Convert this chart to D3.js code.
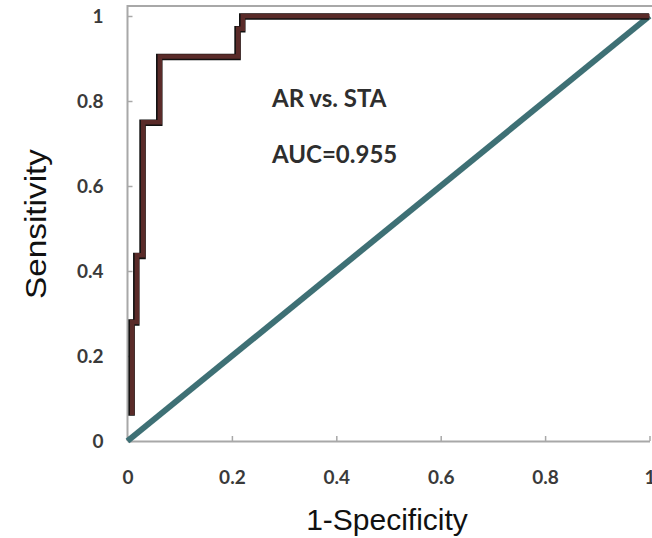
<!DOCTYPE html>
<html>
<head>
<meta charset="utf-8">
<script src="https://cdn.jsdelivr.net/npm/d3@7"></script>
<style>
  body { margin: 0; background: #fff; }
  svg { display: block; }
  .tick text { font-family: Lato, "Open Sans", sans-serif; font-weight: bold; font-size: 19px; fill: #3a3a3a; }
</style>
</head>
<body>
<svg id="chart"></svg>
<script>
var width = 652;
var height = 538;

// ROC curve (1-specificity, sensitivity)
var fpr = [0.009, 0.009, 0.018, 0.018, 0.030, 0.030, 0.062, 0.062, 0.212, 0.212, 0.221, 0.221, 1.0];
var tpr = [0.061, 0.280, 0.280, 0.437, 0.437, 0.750, 0.750, 0.905, 0.905, 0.970, 0.970, 1.0, 1.0];
var refLine = [[0, 0], [1, 1]];
var tickValues = [0, 0.2, 0.4, 0.6, 0.8, 1];
var labelText = ["AR vs. STA", "AUC=0.955"];

var svg = d3.select("#chart")
    .attr("width", width)
    .attr("height", height);

var x = d3.scaleLinear().domain([0, 1]).range([127.5, 649.5]);
var y = d3.scaleLinear().domain([0, 1]).range([441, 16]);

var fmt = d => String(+d.toFixed(1));

// frame: top line and extended left axis
svg.append("path")
    .attr("d", `M${x(0)},${y(0)}V6H${width}`)
    .attr("fill", "none")
    .attr("stroke", "#a8a8a8")
    .attr("stroke-width", 2);

var xAxis = svg.append("g")
    .attr("transform", `translate(0,${y(0)})`)
    .call(d3.axisBottom(x).tickValues(tickValues).tickFormat(fmt).tickSizeInner(-5).tickSizeOuter(0).tickPadding(30));
xAxis.select(".domain").attr("stroke", "#a8a8a8").attr("stroke-width", 2);
xAxis.selectAll(".tick line").attr("stroke", "#a8a8a8").attr("stroke-width", 1.5);

var yAxis = svg.append("g")
    .attr("transform", `translate(${x(0)},0)`)
    .call(d3.axisLeft(y).tickValues(tickValues).tickFormat(fmt).tickSizeInner(-5).tickSizeOuter(0).tickPadding(24));
yAxis.select(".domain").remove();
yAxis.selectAll(".tick line").attr("stroke", "#a8a8a8").attr("stroke-width", 1.5);

// diagonal reference
var line = d3.line().x(d => x(d[0])).y(d => y(d[1]));
svg.append("path")
    .datum(refLine)
    .attr("d", line)
    .attr("fill", "none")
    .attr("stroke", "#3e7075")
    .attr("stroke-width", 6);

// ROC curve: black edge under a brown stroke
var pts = fpr.map((f, i) => [f, tpr[i]]);
svg.append("path")
    .datum(pts)
    .attr("d", line)
    .attr("fill", "none")
    .attr("stroke", "#111")
    .attr("stroke-width", 6.5)
    .attr("transform", "translate(-0.6,0.6)");
svg.append("path")
    .datum(pts)
    .attr("d", line)
    .attr("fill", "none")
    .attr("stroke", "#5a2b29")
    .attr("stroke-width", 4.5);

// annotation
svg.selectAll(".note")
    .data(labelText)
    .join("text")
    .attr("class", "note")
    .attr("x", 272)
    .attr("y", (d, i) => 107 + i * 56)
    .attr("font-family", "Lato, 'Open Sans', sans-serif")
    .attr("font-weight", "bold")
    .attr("font-size", 24)
    .attr("fill", "#2e2e2e")
    .text(d => d);

// axis titles
svg.append("text")
    .attr("x", 387)
    .attr("y", 530)
    .attr("text-anchor", "middle")
    .attr("font-family", "'Liberation Sans', Arial, sans-serif")
    .attr("font-size", 30)
    .attr("fill", "#111")
    .text("1-Specificity");

svg.append("text")
    .attr("transform", "translate(46,224) rotate(-90)")
    .attr("text-anchor", "middle")
    .attr("font-family", "'Liberation Sans', Arial, sans-serif")
    .attr("font-size", 29)
    .attr("fill", "#111")
    .attr("textLength", 150)
    .attr("lengthAdjust", "spacingAndGlyphs")
    .text("Sensitivity");
</script>
</body>
</html>
